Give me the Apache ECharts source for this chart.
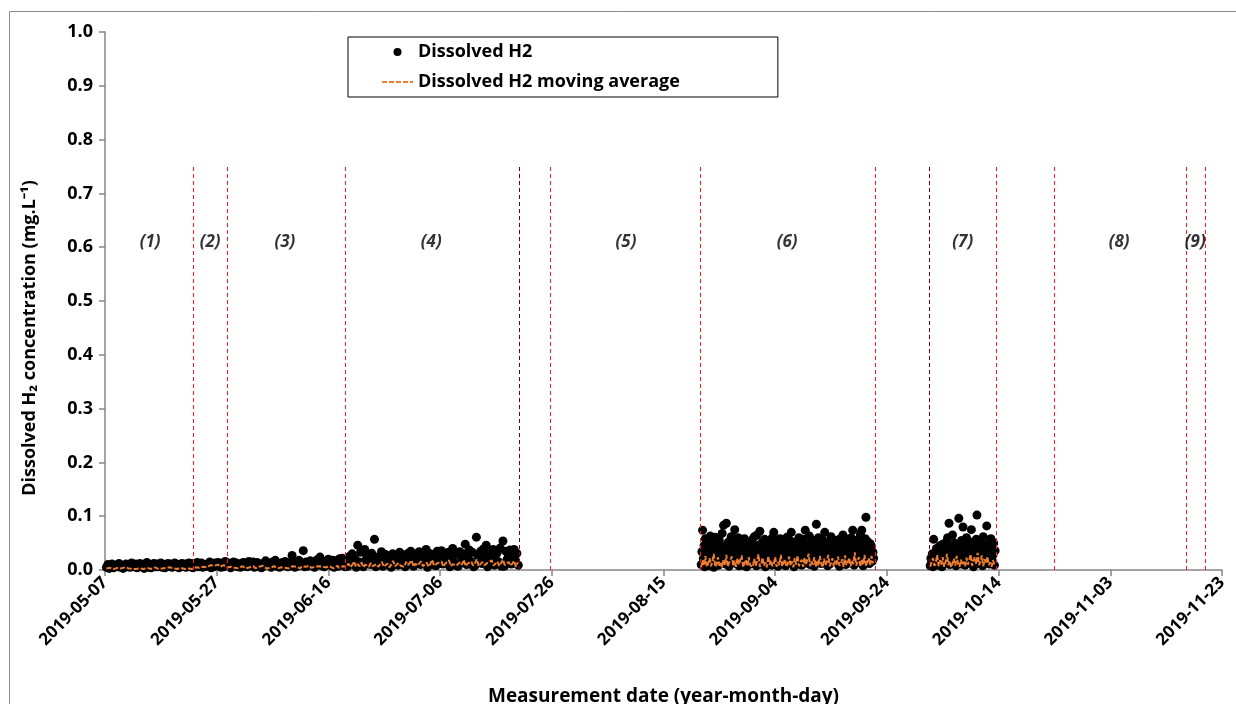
<!DOCTYPE html>
<html>
<head>
<meta charset="utf-8">
<script src="https://cdn.jsdelivr.net/npm/echarts@6/dist/echarts.min.js"></script>
<style>html,body{margin:0;padding:0;background:#fff}#c{width:1236px;height:704px}</style>
</head>
<body>
<div id="c"></div>
<script>
// ---------- DATA ----------
// X-axis ticks (every 20 days) and Y ticks
const xTickStart = '2019-05-07';
const xTickEnd = '2019-11-23';
const xTickDays = 20;
const yTicks = [0.0, 0.1, 0.2, 0.3, 0.4, 0.5, 0.6, 0.7, 0.8, 0.9, 1.0];

// Dissolved H2 measurements, segment 1 (6 h sampling)
const seg1Start = '2019-05-07T06:00';
const seg1StepH = 6;
const h2Seg1 = [
  0.005,0.010,0.003,0.008, 0.011,0.004,0.009,0.006, 0.007,0.012,0.005,0.009, 0.003,0.008,0.011,0.006,
  0.010,0.005,0.013,0.007, 0.006,0.011,0.004,0.009, 0.012,0.007,0.010,0.003, 0.008,0.014,0.005,0.010,
  0.004,0.009,0.012,0.006, 0.011,0.006,0.008,0.013, 0.005,0.010,0.004,0.009, 0.012,0.007,0.011,0.005,
  0.008,0.013,0.006,0.010, 0.004,0.009,0.012,0.007, 0.011,0.005,0.008,0.013, 0.006,0.012,0.004,0.010,
  0.009,0.014,0.006,0.011, 0.013,0.005,0.010,0.008, 0.007,0.012,0.015,0.004, 0.010,0.006,0.013,0.009,
  0.014,0.008,0.005,0.011, 0.006,0.016,0.010,0.013, 0.012,0.004,0.009,0.015, 0.008,0.013,0.006,0.011,
  0.005,0.010,0.014,0.007, 0.012,0.006,0.016,0.009, 0.009,0.015,0.005,0.012, 0.014,0.007,0.011,0.004,
  0.006,0.012,0.017,0.010, 0.013,0.008,0.005,0.015, 0.010,0.018,0.007,0.012, 0.005,0.011,0.014,0.008,
  0.016,0.009,0.006,0.013, 0.008,0.027,0.012,0.005, 0.014,0.007,0.018,0.010, 0.011,0.036,0.006,0.015,
  0.007,0.013,0.017,0.009, 0.015,0.005,0.012,0.019, 0.010,0.024,0.008,0.014, 0.006,0.016,0.011,0.020,
  0.013,0.008,0.018,0.005, 0.017,0.011,0.007,0.021, 0.009,0.022,0.014,0.006,
  0.018,0.007,0.025,0.012, 0.030,0.010,0.021,0.005, 0.046,0.015,0.033,0.008, 0.006,0.038,0.020,0.027,
  0.028,0.010,0.031,0.017, 0.057,0.006,0.024,0.013, 0.018,0.034,0.007,0.026, 0.029,0.012,0.025,0.008,
  0.005,0.030,0.019,0.014, 0.026,0.009,0.033,0.017, 0.016,0.028,0.006,0.022, 0.031,0.011,0.035,0.019,
  0.007,0.027,0.018,0.024, 0.034,0.010,0.029,0.015, 0.020,0.038,0.005,0.026, 0.030,0.013,0.027,0.009,
  0.008,0.035,0.022,0.017, 0.036,0.011,0.031,0.021, 0.019,0.033,0.006,0.027, 0.040,0.014,0.029,0.008,
  0.007,0.034,0.024,0.016, 0.030,0.048,0.010,0.022, 0.037,0.016,0.033,0.006, 0.008,0.061,0.026,0.018,
  0.035,0.012,0.039,0.023, 0.046,0.006,0.030,0.016, 0.022,0.038,0.009,0.028, 0.033,0.015,0.041,0.007,
  0.054,0.007,0.035,0.020, 0.026,0.037,0.011,0.030, 0.038,0.018,0.031,0.009
];
// segment 2 (3 h sampling)
const seg2Start = '2019-08-21T18:00';
const seg2StepH = 3;
const h2Seg2 = [
  0.010,0.034,0.074,0.021,0.045,0.006,0.058,0.028, 0.040,0.015,0.052,0.030,0.008,0.063,0.024,0.046,
  0.018,0.050,0.005,0.036,0.061,0.026,0.012,0.044, 0.033,0.009,0.055,0.022,0.042,0.016,0.068,0.030,
  0.083,0.025,0.044,0.011,0.087,0.035,0.019,0.052, 0.007,0.048,0.028,0.062,0.015,0.040,0.055,0.023,
  0.075,0.032,0.012,0.047,0.026,0.060,0.008,0.038, 0.020,0.053,0.035,0.009,0.045,0.027,0.058,0.014,
  0.041,0.006,0.030,0.050,0.017,0.036,0.011,0.047, 0.024,0.056,0.013,0.039,0.062,0.021,0.044,0.008,
  0.065,0.029,0.046,0.010,0.072,0.034,0.018,0.051, 0.012,0.043,0.027,0.057,0.006,0.038,0.049,0.022,
  0.035,0.016,0.054,0.031,0.045,0.009,0.060,0.026, 0.070,0.020,0.041,0.013,0.050,0.033,0.007,0.046,
  0.028,0.058,0.015,0.037,0.052,0.024,0.043,0.010, 0.048,0.008,0.033,0.061,0.019,0.040,0.027,0.055,
  0.014,0.070,0.036,0.023,0.047,0.006,0.038,0.029, 0.052,0.025,0.011,0.044,0.060,0.031,0.017,0.049,
  0.009,0.037,0.057,0.020,0.042,0.074,0.028,0.013, 0.046,0.022,0.034,0.063,0.010,0.050,0.039,0.018,
  0.031,0.055,0.007,0.040,0.027,0.085,0.045,0.015, 0.060,0.019,0.048,0.033,0.012,0.041,0.056,0.024,
  0.037,0.070,0.016,0.050,0.028,0.008,0.044,0.032, 0.011,0.043,0.062,0.025,0.036,0.053,0.018,0.047,
  0.055,0.030,0.013,0.046,0.021,0.039,0.007,0.058, 0.026,0.049,0.035,0.065,0.016,0.042,0.030,0.010,
  0.044,0.012,0.057,0.029,0.050,0.023,0.038,0.060, 0.018,0.074,0.040,0.009,0.046,0.032,0.055,0.021,
  0.035,0.052,0.014,0.043,0.066,0.027,0.074,0.039, 0.008,0.047,0.030,0.058,0.098,0.041,0.053,0.024,
  0.037,0.012,0.049,0.028,0.044,0.016,0.033,0.022
];
// segment 3 (3 h sampling)
const seg3Start = '2019-10-01T18:00';
const seg3StepH = 3;
const h2Seg3 = [
  0.008,0.022,0.015,0.030,0.006,0.057,0.018,0.026, 0.012,0.040,0.020,0.009,0.033,0.016,0.045,0.025,
  0.030,0.006,0.048,0.022,0.013,0.037,0.027,0.052, 0.017,0.060,0.034,0.087,0.010,0.042,0.024,0.031,
  0.065,0.014,0.038,0.050,0.021,0.008,0.045,0.029, 0.035,0.096,0.019,0.041,0.011,0.055,0.027,0.080,
  0.024,0.047,0.009,0.036,0.060,0.018,0.043,0.030, 0.013,0.052,0.032,0.075,0.022,0.040,0.006,0.048,
  0.038,0.017,0.057,0.102,0.028,0.045,0.012,0.034, 0.021,0.050,0.036,0.008,0.062,0.026,0.042,0.015,
  0.046,0.082,0.024,0.039,0.050,0.011,0.033,0.058, 0.019,0.040,0.028,0.050,0.009,0.036
];

// Moving average
const ma1Start = '2019-05-07T06:00';
const ma1StepH = 8;
const maSeg1 = [
  0.003,0.002,0.004,0.003,0.002,0.003,0.004,0.002,0.003,0.003,0.005,0.002,0.003,0.004,0.002,0.003,
  0.002,0.004,0.003,0.005,0.002,0.003,0.004,0.003,0.002,0.003,0.005,0.003,0.002,0.004,0.003,0.002,
  0.004,0.003,0.005,0.002,0.003,0.004,0.002,0.003,0.004,0.003,0.002,0.005,0.003,0.004,0.002,0.003,
  0.005,0.006,0.004,0.007,0.006,0.008,0.005,0.007,0.009,0.006,0.008,0.007,0.010,0.006,0.008,0.009,
  0.007,0.005,0.008,0.006,0.004,
  0.004,0.006,0.003,0.005,0.007,0.004,0.003,0.006,0.005,0.004,0.007,0.003,0.005,0.006,0.004,0.008,
  0.005,0.003,0.006,0.004,0.005,0.007,0.004,0.003,0.006,0.005,0.008,0.004,0.006,0.003,0.005,0.007,
  0.004,0.006,0.005,0.003,0.007,0.004,0.006,0.005,0.008,0.004,0.003,0.006,0.005,0.007,0.004,0.006,
  0.009,0.005,0.004,0.007,0.005,0.003,0.006,0.008,0.004,0.005,0.007,0.006,
  0.006,0.012,0.005,0.009,0.016,0.006,0.011,0.007,0.014,0.005,0.010,0.008,0.006,0.013,0.007,0.005,
  0.011,0.006,0.009,0.015,0.006,0.008,0.012,0.005,0.010,0.017,0.007,0.006,0.013,0.008,0.011,0.006,
  0.015,0.009,0.007,0.018,0.006,0.012,0.008,0.010,0.016,0.007,0.009,0.014,0.006,0.011,0.019,0.008,
  0.007,0.013,0.010,0.016,0.006,0.012,0.009,0.018,0.007,0.011,0.014,0.008,0.006,0.015,0.010,0.019,
  0.007,0.012,0.009,0.016,0.008,0.013,0.020,0.007,0.011,0.015,0.009,0.006,0.014,0.012,0.018,0.008,
  0.010,0.016,0.007,0.013,0.019,0.009,0.011,0.015,0.008,0.012,0.017,0.006,0.014
];
const ma2Start = '2019-08-21T18:00';
const ma2StepH = 6;
const maSeg2 = [
  0.005,0.018,0.008,0.026,0.006,0.012,0.022,0.007,0.015,0.030,0.006,0.010,0.024,0.008,0.013,0.005,
  0.020,0.009,0.028,0.006,0.014,0.011,0.025,0.007,0.017,0.006,0.022,0.010,0.008,0.027,0.005,0.013,
  0.019,0.007,0.024,0.009,0.012,0.006,0.021,0.008,0.016,0.029,0.006,0.011,0.023,0.008,0.014,0.005,
  0.026,0.010,0.018,0.007,0.012,0.024,0.006,0.015,0.009,0.028,0.007,0.013,0.020,0.006,0.011,0.025,
  0.008,0.016,0.005,0.022,0.010,0.027,0.007,0.014,0.019,0.006,0.023,0.009,0.012,0.030,0.007,0.016,
  0.010,0.024,0.006,0.018,0.008,0.026,0.011,0.005,0.021,0.009,0.015,0.028,0.007,0.013,0.022,0.006,
  0.017,0.010,0.025,0.008,0.012,0.020,0.006,0.027,0.009,0.014,0.023,0.007,0.018,0.011,0.033,0.008,
  0.015,0.024,0.006,0.020,0.010,0.028,0.007,0.016,0.022,0.009,0.026,0.012
];
const ma3Start = '2019-10-01T18:00';
const ma3StepH = 6;
const maSeg3 = [
  0.006,0.015,0.022,0.008,0.012,0.028,0.007,0.018,0.010,0.024,0.006,0.014,0.030,0.009,0.017,0.005,
  0.012,0.021,0.008,0.026,0.011,0.006,0.019,0.009,0.015,0.007,0.023,0.010,0.013,0.029,0.008,0.018,
  0.024,0.011,0.032,0.009,0.016,0.027,0.007,0.020,0.012,0.025,0.009,0.014,0.006,0.018,0.010
];

// Phase boundaries (dashed vertical lines)
const boundaryDates = ['2019-05-22T18:00','2019-05-28T20:00','2019-06-18T23:00','2019-07-25T16:00',
  '2019-08-21T12:00','2019-09-21T21:00','2019-10-13T12:00','2019-10-23T22:00','2019-11-16T14:00','2019-11-20T00:00'];
const darkBoundaryDates = ['2019-07-20T03:00','2019-10-01T12:00'];
const boundaryTop = 0.75;

// Phase labels
const phaseNames = ['(1)','(2)','(3)','(4)','(5)','(6)','(7)','(8)','(9)'];
const phaseDates = ['2019-05-15T02:00','2019-05-25T20:00','2019-06-08T05:00','2019-07-04T10:00',
  '2019-08-08T07:00','2019-09-06T03:00','2019-10-07T14:00','2019-11-04T14:00','2019-11-18T05:00'];
const phaseY = 0.61;

// ---------- BUILD ----------
const T = s => Date.parse((s.length === 10 ? s + 'T00:00' : s) + 'Z');
const DAY = 86400000;
function build(start, stepH, vals) {
  const t0 = T(start);
  return vals.map((v, i) => [t0 + i * stepH * 3600000, v]);
}
const scatterData = build(seg1Start, seg1StepH, h2Seg1)
  .concat(build(seg2Start, seg2StepH, h2Seg2), build(seg3Start, seg3StepH, h2Seg3));

const m1 = build(ma1Start, ma1StepH, maSeg1);
const m2 = build(ma2Start, ma2StepH, maSeg2);
const m3 = build(ma3Start, ma3StepH, maSeg3);
const maData = m1.concat([[m1[m1.length-1][0] + DAY, '-']], m2, [[m2[m2.length-1][0] + DAY, '-']], m3);

const pad = n => (n < 10 ? '0' : '') + n;
const fmtDate = v => { const d = new Date(v); return d.getUTCFullYear() + '-' + pad(d.getUTCMonth()+1) + '-' + pad(d.getUTCDate()); };
const vLines = dates => dates.map(d => [{ coord: [T(d), 0] }, { coord: [T(d), boundaryTop] }]);

const FONT = 'Open Sans';
const chart = echarts.init(document.getElementById('c'), null, { renderer: 'canvas' });
chart.setOption({
  animation: false,
  backgroundColor: '#fff',
  textStyle: { fontFamily: FONT },
  graphic: [{
    type: 'rect', silent: true, z: -10,
    shape: { x: 9.5, y: 11.5, width: 1300, height: 800 },
    style: { fill: 'none', stroke: '#8c8c8c', lineWidth: 1 }
  }],
  grid: { left: 105, right: 14, top: 32, bottom: 134, containLabel: false, outerBoundsMode: 'none' },
  legend: {
    orient: 'vertical',
    left: 348, top: 37,
    padding: [6, 98, 6, 33],
    borderColor: '#000', borderWidth: 1,
    itemWidth: 31, itemHeight: 8, itemGap: 12,
    textStyle: { fontFamily: FONT, fontWeight: 'bold', fontSize: 18, color: '#000' },
    data: [
      { name: 'Dissolved H2', icon: 'circle' },
      { name: 'Dissolved H2 moving average', itemStyle: { opacity: 0 } }
    ]
  },
  xAxis: {
    type: 'value',
    min: T(xTickStart), max: T(xTickEnd), interval: xTickDays * DAY,
    name: 'Measurement date (year-month-day)',
    nameLocation: 'middle', nameGap: 117,
    nameTextStyle: { fontFamily: FONT, fontWeight: 'bold', fontSize: 19, color: '#000' },
    axisLine: { lineStyle: { color: '#868686', width: 1.5 } },
    axisTick: { show: true, inside: false, length: 6, lineStyle: { color: '#868686', width: 1.5 } },
    axisLabel: { rotate: 45, margin: 10, fontFamily: FONT, fontWeight: 'bold', fontSize: 17, color: '#000', formatter: v => fmtDate(v) },
    splitLine: { show: false }
  },
  yAxis: {
    type: 'value', min: yTicks[0], max: yTicks[yTicks.length-1], interval: 0.1,
    name: 'Dissolved H\u2082 concentration (mg.L\u207B\u00B9)',
    nameLocation: 'middle', nameGap: 66,
    nameTextStyle: { fontFamily: FONT, fontWeight: 'bold', fontSize: 18, color: '#000', padding: [0, 74, 0, 0] },
    axisLine: { show: true, lineStyle: { color: '#868686', width: 1.5 } },
    axisTick: { show: true, inside: false, length: 6, lineStyle: { color: '#868686', width: 1.5 } },
    axisLabel: { margin: 12, fontFamily: FONT, fontWeight: 'bold', fontSize: 18, color: '#000', formatter: v => v.toFixed(1) },
    splitLine: { show: false }
  },
  series: [
    {
      name: 'Dissolved H2', type: 'scatter', data: scatterData,
      symbol: 'circle', symbolSize: 9,
      itemStyle: { color: '#000', opacity: 1 }, z: 3
    },
    {
      name: 'Dissolved H2 moving average', type: 'line', data: maData,
      symbol: 'none', showSymbol: false, connectNulls: false,
      lineStyle: { color: '#ED7D31', width: 2, type: [5, 2] },
      itemStyle: { color: '#ED7D31' }, z: 4,
      markLine: { silent: true, symbol: ['none', 'none'], label: { show: false },
        lineStyle: { type: [4, 3], color: '#7a0000', width: 1 }, data: vLines(darkBoundaryDates), animation: false }
    },
    {
      name: 'phases', type: 'scatter',
      data: phaseNames.map((n, i) => ({ name: n, value: [T(phaseDates[i]), phaseY] })),
      symbolSize: 0, silent: true,
      label: { show: true, position: 'inside', formatter: p => p.name, fontFamily: FONT, fontWeight: 'bold', fontStyle: 'italic', fontSize: 17, color: '#000' },
      markLine: { silent: true, symbol: ['none', 'none'], label: { show: false },
        lineStyle: { type: [4, 3], color: '#ff1a1a', width: 1 }, data: vLines(boundaryDates), animation: false },
      z: 5
    }
  ]
});
</script>
</body>
</html>
